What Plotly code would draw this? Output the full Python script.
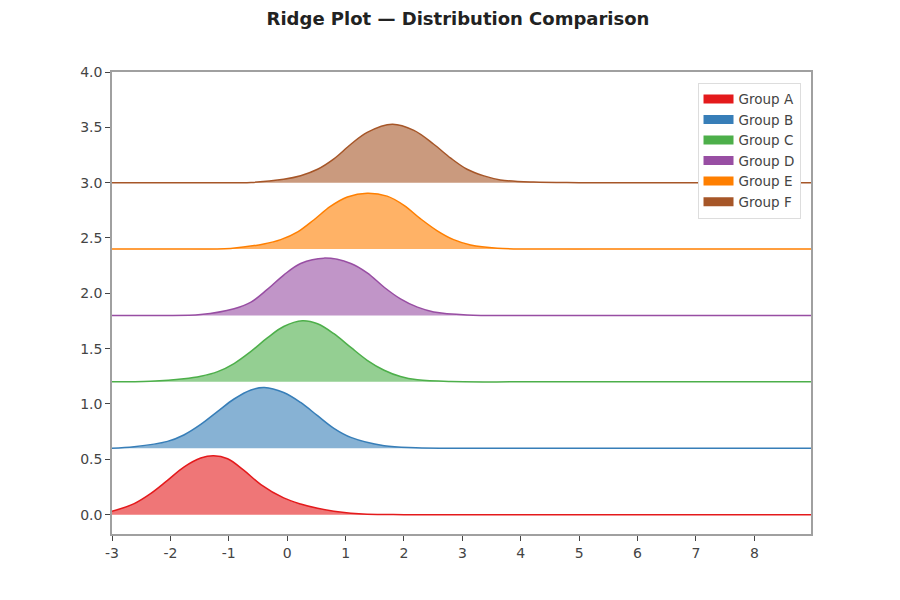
import plotly.graph_objects as go

# Ridge plot
groups = ['Group A', 'Group B', 'Group C', 'Group D', 'Group E', 'Group F']
offsets = [0.0, 0.6, 1.2, 1.8, 2.4, 3.0]
colors = ['#e41a1c', '#377eb8', '#4daf4a', '#984ea3', '#ff7f00', '#a65628']
fills = ['rgba(228,26,28,0.6)', 'rgba(55,126,184,0.6)', 'rgba(77,175,74,0.6)',
         'rgba(152,78,163,0.6)', 'rgba(255,127,0,0.6)', 'rgba(166,86,40,0.6)']

x_ticks = [-3, -2, -1, 0, 1, 2, 3, 4, 5, 6, 7, 8]
x_labels = ['-3', '-2', '-1', '0', '1', '2', '3', '4', '5', '6', '7', '8']

# x positions and curve heights above each ridge's baseline
x_a = [-3, -2.62, -2.34, -2.05, -1.77, -1.48, -1.26, -1.02, -0.74, -0.45, -0.06, 0.23, 0.52, 0.80, 1.09, 1.37, 2.0, 4, 6, 9]
h_a = [0.03, 0.10, 0.19, 0.31, 0.43, 0.512, 0.533, 0.505, 0.400, 0.272, 0.151, 0.096, 0.057, 0.030, 0.012, 0.003, 0.0, 0.0, 0.0, 0.0]

x_b = [-3, -2.62, -2.05, -1.77, -1.48, -1.19, -0.91, -0.62, -0.39, -0.06, 0.23, 0.52, 0.80, 1.09, 1.66, 2.2, 3, 4.5, 6, 9]
h_b = [0.0, 0.013, 0.062, 0.120, 0.215, 0.333, 0.445, 0.527, 0.549, 0.504, 0.414, 0.294, 0.180, 0.098, 0.023, 0.005, 0.0, 0.0, 0.0, 0.0]

x_c = [-3, -2.34, -1.77, -1.48, -1.19, -0.91, -0.62, -0.34, -0.06, 0.26, 0.52, 0.80, 1.09, 1.37, 1.66, 1.94, 2.23, 2.8, 4, 6, 9]
h_c = [0.0, 0.005, 0.027, 0.050, 0.092, 0.165, 0.275, 0.397, 0.500, 0.552, 0.525, 0.435, 0.311, 0.195, 0.105, 0.048, 0.018, 0.002, 0.0, 0.0, 0.0]

x_d = [-3, -2.2, -1.48, -0.91, -0.62, -0.34, -0.06, 0.23, 0.63, 1.09, 1.37, 1.66, 1.94, 2.23, 2.51, 3.08, 4, 6, 9]
h_d = [0.0, 0.0, 0.008, 0.060, 0.120, 0.235, 0.365, 0.470, 0.518, 0.470, 0.385, 0.255, 0.150, 0.075, 0.032, 0.005, 0.0, 0.0, 0.0]

x_e = [-3, -2, -0.97, -0.40, -0.11, 0.18, 0.46, 0.74, 1.03, 1.37, 1.71, 2.0, 2.28, 2.57, 2.85, 3.14, 3.6, 4.5, 6, 9]
h_e = [0.0, 0.0, 0.006, 0.046, 0.085, 0.155, 0.265, 0.385, 0.470, 0.505, 0.478, 0.395, 0.275, 0.165, 0.085, 0.037, 0.008, 0.0, 0.0, 0.0]

x_f = [-3, -1.5, -0.62, -0.06, 0.23, 0.52, 0.80, 1.09, 1.37, 1.80, 2.17, 2.51, 2.80, 3.08, 3.37, 3.65, 4.22, 5, 7, 9]
h_f = [0.0, 0.0, 0.002, 0.031, 0.063, 0.121, 0.215, 0.347, 0.455, 0.528, 0.472, 0.347, 0.222, 0.121, 0.061, 0.025, 0.005, 0.0, 0.0, 0.0]

xs = [x_a, x_b, x_c, x_d, x_e, x_f]
hs = [h_a, h_b, h_c, h_d, h_e, h_f]

fig = go.Figure()

for i in range(len(groups)):
    base = offsets[i]
    # invisible baseline for the fill
    fig.add_trace(go.Scatter(
        x=[xs[i][0], xs[i][-1]], y=[base, base],
        mode='lines', line=dict(width=0, color=colors[i]),
        showlegend=False, hoverinfo='skip'))
    fig.add_trace(go.Scatter(
        x=xs[i], y=[base + h for h in hs[i]],
        mode='lines', line=dict(color=colors[i], width=1.5, shape='spline', smoothing=1.0),
        fill='tonexty', fillcolor=fills[i],
        name=groups[i], showlegend=False))

# legend-only entries, drawn as thick full-colour bars
for i in range(len(groups)):
    fig.add_trace(go.Scatter(
        x=[None], y=[None], mode='lines', name=groups[i],
        line=dict(color=colors[i], width=9)))

axis_style = dict(
    showline=True, linecolor='#a0a0a0', linewidth=1.5, mirror=True,
    showgrid=False, zeroline=False,
    ticks='outside', ticklen=5, tickcolor='#444', tickwidth=1,
    tickfont=dict(family='DejaVu Sans', size=14, color='#444'))

fig.update_xaxes(range=[-3, 8.97], tickvals=x_ticks, ticktext=x_labels, **axis_style)
fig.update_yaxes(range=[-0.175, 4.0], dtick=0.5, tickformat='.1f', **axis_style)

fig.update_layout(
    width=900, height=600,
    title=dict(text='<b>Ridge Plot — Distribution Comparison</b>', x=0.5, xanchor='center',
               y=0.982, yanchor='middle',
               font=dict(family='DejaVu Sans', size=18, color='#222')),
    margin=dict(l=104, r=97, t=64, b=74),
    plot_bgcolor='white', paper_bgcolor='white',
    legend=dict(x=0.985, xanchor='right', y=0.977, yanchor='top',
                traceorder='normal',
                bgcolor='white', bordercolor='#dddddd', borderwidth=1,
                font=dict(family='DejaVu Sans', size=13.5, color='#444'),
                tracegroupgap=0),
    showlegend=True)

fig.write_html("out.html")
